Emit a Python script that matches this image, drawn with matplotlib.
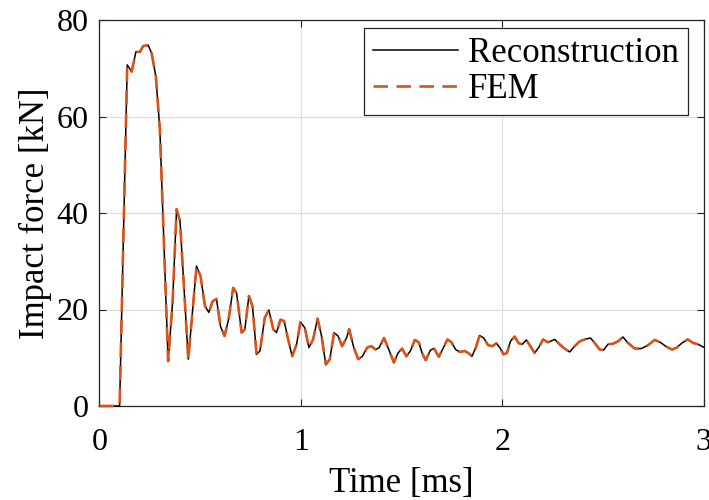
import numpy as np
import matplotlib
matplotlib.use("Agg")
import matplotlib.pyplot as plt

# values (time in ms, force in kN)
time_ms = [0.0, 0.10, 0.138, 0.16, 0.181, 0.201, 0.217, 0.242, 0.259, 0.28, 0.30,
           0.341, 0.363, 0.383, 0.40, 0.441, 0.482, 0.502, 0.524, 0.543, 0.562,
           0.581, 0.601, 0.621, 0.641, 0.664, 0.681, 0.706, 0.722, 0.742, 0.760,
           0.780, 0.797, 0.821, 0.841, 0.863, 0.879, 0.899, 0.917, 0.937, 0.957,
           0.979, 0.998, 1.020, 1.040, 1.061, 1.083, 1.103, 1.124, 1.144, 1.165,
           1.185, 1.205, 1.227, 1.240, 1.263, 1.285, 1.306, 1.329, 1.351, 1.371,
           1.389, 1.413, 1.437, 1.462, 1.483, 1.503, 1.524, 1.544, 1.566, 1.586,
           1.602, 1.620, 1.644, 1.662, 1.685, 1.706, 1.728, 1.748, 1.769, 1.789,
           1.814, 1.834, 1.850, 1.869, 1.888, 1.908, 1.930, 1.951, 1.971, 1.988,
           2.007, 2.024, 2.041, 2.062, 2.082, 2.100, 2.120, 2.140, 2.161, 2.181,
           2.203, 2.227, 2.261, 2.285, 2.310, 2.335, 2.360, 2.385, 2.409, 2.438,
           2.459, 2.484, 2.504, 2.525, 2.550, 2.575, 2.600, 2.624, 2.658, 2.691,
           2.724, 2.757, 2.785, 2.815, 2.844, 2.867, 2.894, 2.922, 2.947, 2.972,
           3.0]

recon_force = [0.0, 0.0, 70.7, 69.3, 73.4, 73.4, 74.6, 74.8, 73.1, 68.3, 57.2,
               9.3, 21.4, 40.8, 38.3, 9.7, 29.0, 26.9, 20.7, 19.4, 21.7,
               22.2, 16.5, 14.5, 17.9, 24.5, 23.4, 15.2, 15.9, 22.8, 20.7,
               10.7, 11.4, 18.3, 19.9, 15.9, 15.2, 17.9, 17.6, 13.8, 10.3,
               12.8, 17.4, 16.2, 12.1, 13.8, 18.1, 14.5, 8.6, 9.7, 15.2,
               14.5, 12.4, 14.1, 15.9, 12.1, 9.7, 10.3, 12.1, 12.4, 11.7,
               12.1, 14.1, 11.7, 9.0, 11.0, 11.9, 10.3, 11.4, 13.7, 13.2,
               11.0, 9.5, 11.6, 11.9, 10.2, 11.9, 13.8, 13.2, 11.7, 11.2,
               11.4, 10.9, 10.3, 12.1, 14.6, 14.1, 12.6, 12.4, 13.0, 12.1,
               10.7, 11.0, 13.4, 14.4, 13.0, 12.8, 13.7, 12.4, 11.0, 12.1,
               13.8, 13.2, 13.8, 12.8, 11.9, 11.2, 12.4, 13.4, 13.8, 14.1,
               13.1, 11.7, 11.6, 12.8, 12.9, 13.4, 14.3, 13.1, 11.9, 11.9,
               12.6, 13.7, 13.2, 12.3, 11.7, 12.1, 13.1, 13.8, 13.1, 12.8,
               12.2]

# FEM curve lies on top of the reconstruction in the picture
fem_force = recon_force

plt.rcParams["font.family"] = ["Liberation Serif", "DejaVu Serif"]

fig = plt.figure(figsize=(7.09, 5.0), dpi=100)
ax = fig.add_axes([0.1403, 0.188, 0.852, 0.772])

ax.plot(time_ms, recon_force, color="black", linewidth=1.1, label="Reconstruction",
        zorder=3, clip_on=False)
ax.plot(time_ms, fem_force, color="#D95319", linewidth=1.9,
        linestyle=(0, (5.5, 3.2)), label="FEM", zorder=4, clip_on=False)

ax.set_xlim(0, 3)
ax.set_ylim(0, 80)
ax.set_xticks([0, 1, 2, 3])
ax.set_yticks([0, 20, 40, 60, 80])
ax.grid(True, color="#dedede", linewidth=0.9)
ax.set_axisbelow(True)
ax.tick_params(direction="in", top=True, right=True, labelsize=23, length=5,
               color="#262626")
ax.tick_params(axis="x", pad=16)
ax.tick_params(axis="y", pad=8)
for s in ax.spines.values():
    s.set_color("#262626")
    s.set_linewidth(0.9)

ax.set_xlabel("Time [ms]", fontsize=25, labelpad=7)
ax.set_ylabel("Impact force [kN]", fontsize=25, labelpad=3)

leg = ax.legend(loc="upper right", bbox_to_anchor=(0.974, 0.979), fontsize=25,
                fancybox=False, framealpha=1, edgecolor="#262626",
                handlelength=2.45, borderaxespad=0, labelspacing=0.1,
                handletextpad=0.3, borderpad=0.25)
leg.get_frame().set_linewidth(0.9)
leg.set_zorder(5)

fig.savefig("out.png", dpi=100)
